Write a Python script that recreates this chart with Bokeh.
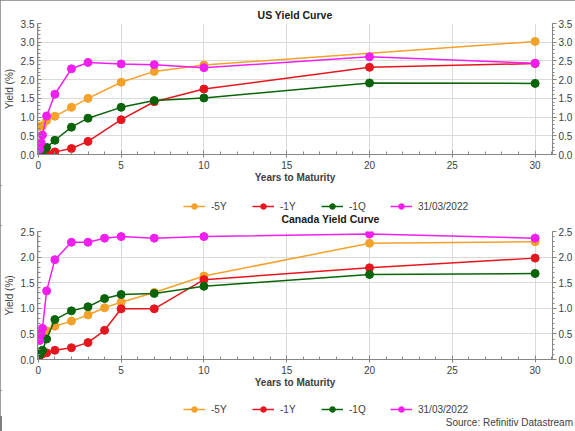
from bokeh.plotting import figure
from bokeh.models import (Range1d, LinearAxis, Legend, LegendItem, Div, Label,
                          SingleIntervalTicker, NumeralTickFormatter)
from bokeh.layouts import column
from bokeh.embed import file_html
from bokeh.resources import INLINE

FONT = "Liberation Sans"

# ---- data ----
series_labels = ["-5Y", "-1Y", "-1Q", "31/03/2022"]
series_colors = ["#F4A12A", "#E5161D", "#0A640A", "#F01FF0"]

us_mat = [1/12, 2/12, 0.25, 0.5, 1, 2, 3, 5, 7, 10, 20, 30]
us_mat_5y = [1/12, 0.25, 0.5, 1, 2, 3, 5, 7, 10, 30]
us_5y = [0.75, 0.77, 0.91, 1.02, 1.26, 1.50, 1.93, 2.22, 2.39, 3.02]
us_1y = [0.02, 0.02, 0.03, 0.05, 0.07, 0.16, 0.35, 0.93, 1.41, 1.75, 2.33, 2.43]
us_1q = [0.05, 0.05, 0.06, 0.19, 0.38, 0.73, 0.97, 1.26, 1.44, 1.51, 1.91, 1.90]
us_now = [0.14, 0.32, 0.52, 1.03, 1.61, 2.29, 2.46, 2.42, 2.40, 2.32, 2.61, 2.44]

ca_mat = [1/12, 2/12, 0.25, 0.5, 1, 2, 3, 4, 5, 7, 10, 20, 30]
ca_5y = [0.50, 0.52, 0.54, 0.56, 0.65, 0.75, 0.87, 1.01, 1.12, 1.31, 1.63, 2.27, 2.30]
ca_1y = [0.08, 0.10, 0.11, 0.13, 0.18, 0.23, 0.33, 0.57, 0.99, 0.99, 1.56, 1.79, 1.98]
ca_1q = [0.10, 0.14, 0.18, 0.40, 0.78, 0.95, 1.03, 1.19, 1.27, 1.29, 1.43, 1.66, 1.68]
ca_now = [0.37, 0.50, 0.61, 1.34, 1.95, 2.29, 2.29, 2.37, 2.40, 2.37, 2.40, 2.45, 2.37]

us_title = "US Yield Curve"
ca_title = "Canada Yield Curve"
x_label = "Years to Maturity"
y_label = "Yield (%)"
source_text = "Source: Refinitiv Datastream"

TXT = "#404040"
AXC = "#868686"
GRID = "#DADADA"
FS = "10px"
W = 575


def style_axis(ax, vertical):
    ax.axis_line_color = AXC
    ax.major_tick_line_color = AXC
    ax.minor_tick_line_color = AXC
    ax.major_tick_in = 4
    ax.major_tick_out = 0 if vertical else 3
    ax.minor_tick_in = 3
    ax.minor_tick_out = 0
    ax.major_label_text_font = FONT
    ax.major_label_text_font_size = FS
    ax.major_label_text_color = TXT
    ax.major_label_standoff = 3
    ax.axis_label_text_font = FONT
    ax.axis_label_text_font_size = FS
    ax.axis_label_text_color = TXT


def make(title, xs_list, ys_list, ymax, h, top, standoff):
    p = figure(width=W, height=h,
               x_range=Range1d(-0.05, 31.05), y_range=Range1d(0, ymax),
               output_backend="svg", toolbar_location=None,
               min_border_left=36, min_border_right=0, min_border_top=top,
               min_border_bottom=0, outline_line_color=None,
               background_fill_color="white", border_fill_color="white")
    if title:
        p.title.text = title
        p.title.align = "center"
        p.title.text_font = FONT
        p.title.text_font_size = "10.5px"
        p.title.text_color = "#1a1a1a"
        p.title.standoff = standoff
        p.title.offset = 0

    p.xaxis.ticker = SingleIntervalTicker(interval=5, num_minor_ticks=5)
    p.yaxis.ticker = SingleIntervalTicker(interval=0.5, num_minor_ticks=5)
    p.yaxis.formatter = NumeralTickFormatter(format="0.0")
    style_axis(p.xaxis[0], False)
    style_axis(p.yaxis[0], True)
    p.xaxis.axis_label = x_label
    p.xaxis.axis_label_text_font_style = "bold"
    p.xaxis.axis_label_standoff = 0
    p.yaxis.axis_label = y_label
    p.yaxis.axis_label_text_font_style = "normal"
    p.yaxis.axis_label_standoff = 3

    ra = LinearAxis(ticker=SingleIntervalTicker(interval=0.5, num_minor_ticks=5),
                    formatter=NumeralTickFormatter(format="0.0"))
    style_axis(ra, True)
    ra.major_tick_in = 0
    ra.major_tick_out = 4
    ra.minor_tick_in = 0
    ra.minor_tick_out = 2
    ra.major_label_standoff = 2
    ra.axis_label_standoff = 0
    ra.axis_label_text_font_size = "0px"
    p.add_layout(ra, "right")

    p.xgrid.grid_line_color = GRID
    p.ygrid.grid_line_color = GRID

    for xs, ys, col in zip(xs_list, ys_list, series_colors):
        p.line(xs, ys, line_color=col, line_width=1.5)
        p.scatter(xs, ys, size=8, fill_color=col, line_color=col)
    return p


def make_legend(h, xs_list, ys_list, leg_y, next_title=None):
    # legend-only strip: the series are drawn outside the visible range
    q = figure(width=W, height=h, x_range=Range1d(100, 101), y_range=Range1d(100, 101),
               x_axis_type=None, y_axis_type=None, output_backend="svg",
               toolbar_location=None, min_border=0, outline_line_color=None,
               background_fill_color="white", border_fill_color="white")
    q.grid.visible = False
    items = []
    for xs, ys, lab, col in zip(xs_list, ys_list, series_labels, series_colors):
        lr = q.line(xs, ys, line_color=col, line_width=1.5)
        sr = q.scatter(xs, ys, size=7, fill_color=col, line_color=col)
        items.append(LegendItem(label=lab, renderers=[lr, sr]))
    leg = Legend(items=items, orientation="horizontal", location=(146, leg_y),
                 margin=0, padding=2, spacing=21, glyph_width=22,
                 glyph_height=14, label_height=14, label_standoff=6,
                 label_text_font=FONT, label_text_font_size=FS,
                 label_text_color=TXT, border_line_color=None,
                 background_fill_alpha=0)
    q.add_layout(leg, "center")
    if next_title:
        q.add_layout(Label(x=293, y=7, x_units="screen", y_units="screen",
                           text=next_title, text_align="center",
                           text_baseline="middle", text_font=FONT,
                           text_font_size="10.5px", text_font_style="bold",
                           text_color="#1a1a1a"))
    return q


us_x = [us_mat_5y, us_mat, us_mat, us_mat]
us_y = [us_5y, us_1y, us_1q, us_now]
ca_x = [ca_mat] * 4
ca_y = [ca_5y, ca_1y, ca_1q, ca_now]

p1 = make(us_title, us_x, us_y, 3.5, 185, 23, 6)
l1 = make_legend(40, us_x, us_y, 12, ca_title)
p2 = make(None, ca_x, ca_y, 2.5, 165, 6, 0)
l2 = make_legend(26, ca_x, ca_y, 0)

src = Div(text=source_text, width=568, height=15,
          styles={"text-align": "right", "font-family": FONT,
                  "font-size": FS, "color": TXT,
                  "transform": "translateY(-5px)"})

layout = column(p1, l1, p2, l2, src, spacing=0,
                styles={"outline": "2px solid #7f7f7f", "outline-offset": "-2px"})
open("out.html", "w").write(file_html(layout, INLINE))
